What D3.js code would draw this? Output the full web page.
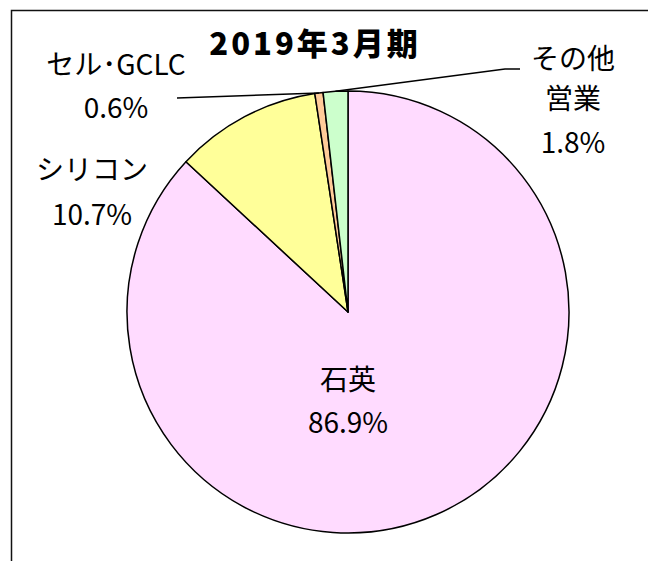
<!DOCTYPE html>
<html>
<head>
<meta charset="utf-8">
<script src="https://cdn.jsdelivr.net/npm/d3@7"></script>
<style>
  html, body { margin: 0; padding: 0; background: #fff; }
  svg { display: block; }
  text { font-family: "Noto Sans CJK JP", "Noto Sans", sans-serif; fill: #000; }
</style>
</head>
<body>
<svg id="chart" width="648" height="561"></svg>
<script>
// ---- data ----
const title = "2019年3月期";
const categories = ["石英", "シリコン", "セル･GCLC", "その他営業"];
const values = [86.9, 10.7, 0.6, 1.8];
const colors = ["#FFDBFF", "#FFFF99", "#FFCC99", "#CCFFCC"];
const labelLines = [["石英", "86.9%"], ["シリコン", "10.7%"], ["セル･GCLC", "0.6%"], ["その他", "営業", "1.8%"]];

// ---- layout ----
const W = 648, H = 561;
const cx = 348, cy = 312, R = 221;
const svg = d3.select("#chart");

svg.append("rect")
  .attr("x", 11.5).attr("y", 10.5)
  .attr("width", 760).attr("height", 700)
  .attr("fill", "#fff").attr("stroke", "#111").attr("stroke-width", 1.5);

const pie = d3.pie().sort(null).value(d => d)(values);
const arc = d3.arc().innerRadius(0).outerRadius(R);

const g = svg.append("g").attr("transform", `translate(${cx},${cy})`);
g.selectAll("path.slice").data(pie).join("path")
  .attr("class", "slice")
  .attr("d", arc)
  .attr("fill", (d, i) => colors[i])
  .attr("stroke", "#000")
  .attr("stroke-width", 1.5)
  .attr("stroke-linejoin", "round");

// title
svg.append("text")
  .attr("x", 315).attr("y", 55)
  .attr("text-anchor", "middle")
  .attr("font-size", 31)
  .attr("font-weight", 900)
  .attr("letter-spacing", 3)
  .text(title);

// point on outer arc at mid-angle
function edgePt(d) {
  const a = (d.startAngle + d.endAngle) / 2;
  return [cx + R * Math.sin(a), cy - R * Math.cos(a)];
}

// leader lines
const pCell = edgePt(pie[2]);
svg.append("path")
  .attr("d", d3.line()([[177, 98], pCell]))
  .attr("fill", "none").attr("stroke", "#000").attr("stroke-width", 1.5);
const pOther = edgePt(pie[3]);
svg.append("path")
  .attr("d", d3.line()([pOther, [505, 69], [520, 69]]))
  .attr("fill", "none").attr("stroke", "#000").attr("stroke-width", 1.5);

// labels
const labelPos = [
  { x: 348, y: [390, 433] },
  { x: 92, y: [180, 225] },
  { x: 116, y: [75, 118] },
  { x: 573, y: [69, 109, 153] }
];
labelLines.forEach((lines, i) => {
  const t = svg.append("text").attr("text-anchor", "middle").attr("font-size", 28);
  lines.forEach((s, j) => {
    t.append("tspan").attr("x", labelPos[i].x).attr("y", labelPos[i].y[j]).text(s);
  });
});
</script>
</body>
</html>
